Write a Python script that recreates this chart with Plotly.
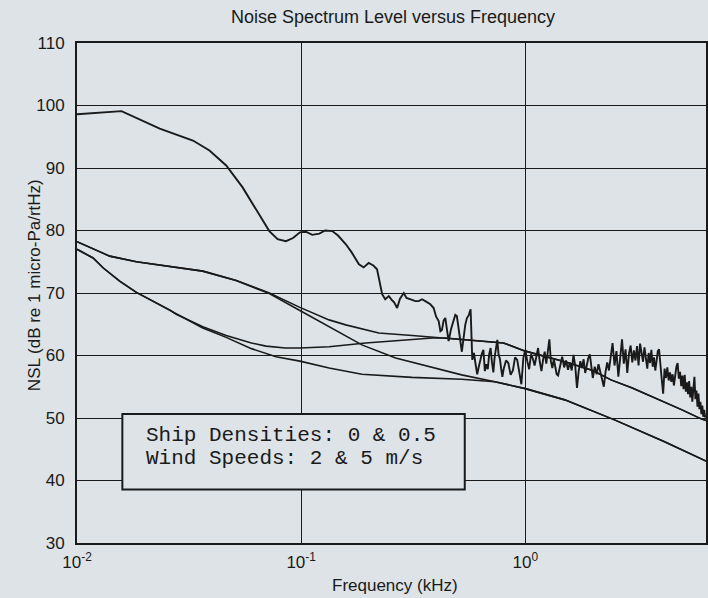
import plotly.graph_objects as go

# ---------------- data ----------------
# Noisy measured-like curve (kHz, dB)
noisy_f = [0.0100, 0.0158, 0.0234, 0.0329, 0.0390, 0.0463, 0.0548, 0.0648, 0.0721, 0.0785,
           0.0855, 0.0920, 0.0987, 0.105, 0.112, 0.1205, 0.128, 0.1377, 0.146, 0.1583,
           0.168, 0.181, 0.190, 0.200, 0.210, 0.218, 0.224, 0.2298, 0.237, 0.246,
           0.255, 0.260, 0.268, 0.276, 0.287, 0.295, 0.3125, 0.323, 0.3345, 0.346,
           0.358, 0.368, 0.377, 0.390, 0.400, 0.4106, 0.418, 0.4246, 0.432, 0.4396,
           0.447, 0.4547, 0.466, 0.4786, 0.487, 0.495, 0.5126, 0.521, 0.5395, 0.549,
           0.56, 0.57, 0.58, 0.59, 0.60, 0.61, 0.62, 0.63, 0.64, 0.65,
           0.66, 0.67, 0.68, 0.69, 0.70, 0.71, 0.72, 0.73, 0.74, 0.75,
           0.76, 0.77, 0.78, 0.79, 0.80, 0.82, 0.84, 0.86, 0.88, 0.90,
           0.92, 0.94, 0.96, 0.98, 1.00, 1.02, 1.04, 1.06, 1.08, 1.10,
           1.12, 1.14, 1.16, 1.18, 1.20, 1.22, 1.24, 1.26, 1.28, 1.30,
           1.32, 1.34, 1.36, 1.38, 1.40, 1.43, 1.46, 1.49, 1.52, 1.55,
           1.58, 1.61, 1.64, 1.67, 1.70, 1.73, 1.76, 1.79, 1.82, 1.85,
           1.88, 1.91, 1.94, 1.97, 2.00, 2.04, 2.08, 2.12, 2.16, 2.20,
           2.24, 2.28, 2.32, 2.36, 2.40, 2.45, 2.50, 2.55, 2.60, 2.65,
           2.70, 2.75, 2.80, 2.85, 2.90, 2.95, 3.00, 3.05, 3.10, 3.15,
           3.20, 3.25, 3.30, 3.35, 3.40, 3.45, 3.50, 3.55, 3.60, 3.65,
           3.70, 3.75, 3.80, 3.85, 3.90, 3.95, 4.00, 4.06, 4.12, 4.18,
           4.24, 4.30, 4.36, 4.42, 4.48, 4.54, 4.60, 4.66, 4.72, 4.78,
           4.84, 4.90, 4.96, 5.02, 5.08, 5.14, 5.20, 5.26, 5.32, 5.38,
           5.44, 5.50, 5.56, 5.62, 5.68, 5.74, 5.80, 5.86, 5.92, 5.98,
           6.04, 6.10, 6.16, 6.22, 6.28, 6.34, 6.40]
noisy_db = [98.6, 99.1, 96.3, 94.4, 92.8, 90.4, 86.9, 82.6, 79.9, 78.6,
            78.3, 78.8, 79.7, 79.8, 79.3, 79.5, 80.0, 79.9, 79.2, 77.8,
            76.5, 74.6, 74.1, 74.8, 74.4, 73.8, 72.0, 69.8, 69.0, 69.5,
            68.8, 68.5, 67.6, 69.1, 70.0, 69.2, 68.9, 68.7, 68.7, 69.0,
            68.7, 68.4, 68.2, 67.6, 66.2, 65.5, 63.9, 64.1, 65.6, 66.0,
            64.0, 62.3, 64.2, 65.8, 66.5, 66.3, 62.8, 60.6, 64.9, 66.0,
            66.5, 67.4, 59.3, 60.4, 58.6, 57.0, 58.2, 59.4, 60.3, 60.9,
            57.5, 58.6, 57.8, 60.2, 61.2, 58.9, 57.3, 59.8, 61.5, 62.5,
            60.1, 59.5, 57.9, 56.6, 57.8, 59.2, 58.8, 56.9, 57.6, 59.7,
            59.3, 57.1, 55.4, 59.6, 60.9, 59.1, 57.8, 60.2, 59.5, 58.4,
            60.0, 61.2, 59.0, 57.5, 59.3, 60.6, 58.7, 60.8, 62.6, 59.1,
            58.0, 59.4, 58.3, 57.0, 56.8, 58.6, 59.8, 58.1, 59.2, 57.7,
            58.9, 57.6, 60.1, 58.3, 54.8, 57.5, 59.1, 58.0, 59.4, 57.2,
            58.5, 59.6, 60.2, 57.8, 56.4, 58.2, 57.0, 58.6, 57.3, 56.1,
            55.0, 57.4, 58.9, 57.6, 59.3, 62.0, 58.4, 60.7, 56.6, 59.8,
            62.6, 58.7, 61.0, 57.2, 60.3, 61.6, 58.9, 60.8, 59.2, 61.5,
            58.4, 61.9, 60.2, 59.0, 61.3, 59.6, 57.9, 60.4, 58.8, 60.9,
            58.2, 59.7, 57.6, 59.1, 60.7, 61.0, 58.3, 56.2, 53.9, 57.9,
            56.4, 58.1, 56.0, 57.3, 55.8, 57.0, 55.2, 56.9, 58.2, 58.8,
            56.3, 57.4, 55.1, 56.8, 54.6, 56.9, 54.2, 55.7, 53.8, 55.9,
            53.3, 55.0, 52.6, 54.7, 56.6, 53.0, 54.4, 51.8, 53.9, 51.4,
            52.6, 50.6, 52.0, 50.2, 51.3, 50.1, 50.4]

# Smooth model curves (kHz, dB)
curveA_f = [0.0100, 0.0140, 0.0184, 0.0259, 0.0364, 0.0513, 0.0721, 0.0987, 0.1332, 0.1581,
            0.222, 0.3125, 0.4396, 0.6182, 0.80, 1.0, 1.5, 2.0, 2.41, 3.0, 4.18, 5.0, 6.05, 6.4]
curveA_db = [78.2, 75.9, 75.0, 74.3, 73.5, 72.0, 70.0, 67.7, 65.7, 64.9,
             63.6, 63.2, 62.8, 62.4, 62.0, 60.7, 59.0, 57.6, 56.1, 54.8, 52.6, 51.3, 49.9, 49.6]

curveB_f = [0.0100, 0.0118, 0.0131, 0.0155, 0.0184, 0.0259, 0.0277, 0.0364, 0.0463, 0.0600,
            0.0697, 0.0850, 0.0987, 0.1332, 0.194, 0.282, 0.385, 0.4396, 0.6182, 0.80,
            1.0, 1.5, 2.0, 2.41, 3.0, 4.18, 5.0, 6.05, 6.4]
curveB_db = [77.0, 75.6, 74.0, 71.9, 70.1, 67.3, 66.6, 64.6, 63.2, 62.0,
             61.5, 61.2, 61.2, 61.4, 62.0, 62.5, 62.8, 62.8, 62.4, 62.0,
             60.7, 59.0, 57.6, 56.1, 54.8, 52.6, 51.3, 49.9, 49.6]

curveC_f = [0.0100, 0.0140, 0.0184, 0.0259, 0.0364, 0.0513, 0.0721, 0.0987, 0.1332, 0.1866,
            0.2639, 0.3704, 0.5197, 0.7314, 0.93, 1.0, 1.5, 2.5, 4.18, 6.3, 6.4]
curveC_db = [78.2, 75.9, 75.0, 74.3, 73.5, 72.0, 69.9, 67.2, 64.6, 61.7,
             59.6, 58.2, 56.9, 55.8, 55.0, 54.7, 52.9, 49.7, 46.2, 43.2, 43.1]

curveD_f = [0.0100, 0.0118, 0.0131, 0.0155, 0.0184, 0.0259, 0.0364, 0.0463, 0.0600, 0.0772,
            0.0987, 0.1332, 0.1866, 0.3125, 0.5197, 0.7314, 0.93, 1.0, 1.5, 2.5, 4.18, 6.3, 6.4]
curveD_db = [77.0, 75.6, 74.0, 71.9, 70.1, 67.2, 64.4, 62.9, 61.1, 59.8,
             59.1, 58.0, 57.0, 56.5, 56.2, 55.8, 55.0, 54.7, 52.9, 49.7, 46.2, 43.2, 43.1]

x_tickvals = [0.01, 0.1, 1]
x_ticktext = ["10<sup>-2</sup>", "10<sup>-1</sup>", "10<sup>0</sup>"]
y_tickvals = [30, 40, 50, 60, 70, 80, 90, 100, 110]

box_lines = ["Ship Densities: 0 & 0.5", "Wind Speeds: 2 & 5 m/s"]

# ---------------- figure ----------------
BG = "#dde3e6"
INK = "#1a1a1a"
SANS = "Liberation Sans, Arial, sans-serif"

fig = go.Figure()
for fx, fy, lw in [(curveA_f, curveA_db, 1.6), (curveB_f, curveB_db, 1.6),
                   (curveC_f, curveC_db, 1.6), (curveD_f, curveD_db, 1.6),
                   (noisy_f, noisy_db, 1.9)]:
    fig.add_trace(go.Scatter(x=fx, y=fy, mode="lines", line=dict(color=INK, width=lw),
                             showlegend=False, hoverinfo="skip"))

W, H = 708, 598
L, R, T, B = 77, 0, 43, 55
pw = W - L - R
ph = H - T - B

fig.update_layout(
    width=W, height=H,
    margin=dict(l=L, r=R, t=T, b=B),
    paper_bgcolor=BG, plot_bgcolor=BG,
    font=dict(family=SANS, color=INK, size=17),
    title=dict(text="Noise Spectrum Level versus Frequency", x=(394 - L) / pw, xref="paper",
               xanchor="center", y=1 - 17 / H, yanchor="middle",
               font=dict(size=18, family=SANS, color=INK)),
    showlegend=False,
)
fig.update_xaxes(type="log", range=[-2, 0.806], tickvals=x_tickvals, ticktext=x_ticktext,
                 showgrid=True, gridcolor=INK, gridwidth=1.4,
                 showline=True, linecolor=INK, linewidth=2, mirror=True,
                 ticks="", zeroline=False, tickfont=dict(size=17), ticklabelstandoff=3)
fig.update_yaxes(range=[30, 110], tickvals=y_tickvals,
                 showgrid=True, gridcolor=INK, gridwidth=1.4,
                 showline=True, linecolor=INK, linewidth=2, mirror=True,
                 ticks="", zeroline=False, tickfont=dict(size=17), ticklabelstandoff=7)

# axis titles as annotations (exact placement)
fig.add_annotation(xref="paper", yref="paper", x=(396 - L) / pw, y=(H - B - 585) / ph,
                   xanchor="center", yanchor="middle", showarrow=False,
                   text="Frequency (kHz)", font=dict(size=17, family=SANS, color=INK))
fig.add_annotation(xref="paper", yref="paper", x=(34 - L) / pw, y=(H - B - 285) / ph,
                   xanchor="center", yanchor="middle", showarrow=False, textangle=-90,
                   text="NSL (dB re 1 micro-Pa/rtHz)", font=dict(size=17, family=SANS, color=INK))

# text box (opaque, covers gridlines)
bx0, bx1 = (122.5 - L) / pw, (466 - L) / pw
by1, by0 = (H - B - 414) / ph, (H - B - 489.5) / ph
fig.add_shape(type="rect", xref="paper", yref="paper", x0=bx0, x1=bx1, y0=by0, y1=by1,
              fillcolor=BG, line=dict(color=INK, width=2), layer="above")
for txt, yc in zip(box_lines, [435, 458]):
    fig.add_annotation(xref="paper", yref="paper", x=(144 - L) / pw, y=(H - B - yc) / ph,
                       xanchor="left", yanchor="middle", showarrow=False, text=txt,
                       font=dict(family="Courier New, Liberation Mono, monospace", size=21, color=INK))

# remove the browser's default 8px body margin so the figure sits at the page origin
fig.write_html("out.html", config={"displayModeBar": False},
               post_script="document.body.style.margin='0';document.body.style.background='%s';" % BG)
